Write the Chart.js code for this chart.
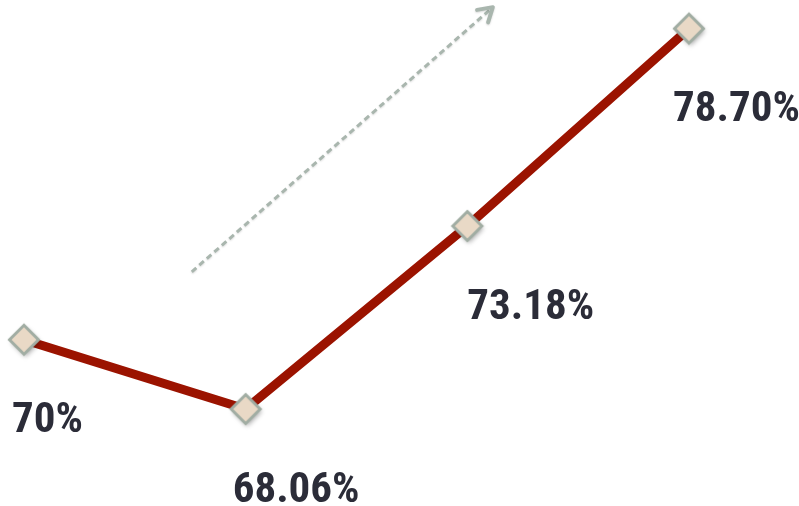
<!DOCTYPE html>
<html>
<head>
<meta charset="utf-8">
<script src="https://cdn.jsdelivr.net/npm/chart.js@4.4.1/dist/chart.umd.min.js"></script>
<style>
  html, body { margin: 0; padding: 0; background: #fff; }
  #wrap { width: 799px; height: 506px; position: relative; }
</style>
</head>
<body>
<div id="wrap"><canvas id="chart"></canvas></div>
<script>
const categories = ['P1', 'P2', 'P3', 'P4'];
const values = [70, 68.06, 73.18, 78.70];
const valueLabels = ['70%', '68.06%', '73.18%', '78.70%'];
// label offset from its point, px
const labelDx = [-12, -13, 0, -16];
const labelDy = 82;
// trend arrow, in data units (category index, value)
const arrowFrom = [0.757, 71.9];
const arrowTo = [2.115, 79.3];

// diamond marker with soft shadow
function makeMarker() {
  const c = document.createElement('canvas');
  c.width = 44; c.height = 44;
  const g = c.getContext('2d');
  g.save();
  g.shadowColor = 'rgba(0,0,0,0.35)';
  g.shadowBlur = 5;
  g.shadowOffsetX = 1.5;
  g.shadowOffsetY = 2.5;
  g.beginPath();
  g.moveTo(22, 7.5); g.lineTo(36.5, 22); g.lineTo(22, 36.5); g.lineTo(7.5, 22); g.closePath();
  g.fillStyle = '#e9d9c6';
  g.fill();
  g.restore();
  g.lineWidth = 3;
  g.strokeStyle = '#a1ada3';
  g.stroke();
  return c;
}

const decorations = {
  id: 'decorations',
  afterDatasetsDraw(chart) {
    const { ctx, scales: { x, y } } = chart;
    // dashed trend arrow
    const x0 = x.getPixelForValue(arrowFrom[0]), y0 = y.getPixelForValue(arrowFrom[1]);
    const x1 = x.getPixelForValue(arrowTo[0]), y1 = y.getPixelForValue(arrowTo[1]);
    const ang = Math.atan2(y1 - y0, x1 - x0);
    ctx.save();
    ctx.shadowColor = 'rgba(0,0,0,0.15)';
    ctx.shadowBlur = 2;
    ctx.shadowOffsetY = 1;
    ctx.strokeStyle = '#a9b6ae';
    ctx.lineWidth = 3;
    ctx.setLineDash([6, 4]);
    ctx.beginPath();
    ctx.moveTo(x0, y0);
    ctx.lineTo(x1 - 2 * Math.cos(ang), y1 - 2 * Math.sin(ang));
    ctx.stroke();
    ctx.setLineDash([]);
    ctx.lineWidth = 4;
    ctx.lineCap = 'round';
    ctx.lineJoin = 'round';
    ctx.beginPath();
    ctx.moveTo(x1 - 16 * Math.cos(ang - 0.55), y1 - 16 * Math.sin(ang - 0.55));
    ctx.lineTo(x1, y1);
    ctx.lineTo(x1 - 16 * Math.cos(ang + 0.55), y1 - 16 * Math.sin(ang + 0.55));
    ctx.stroke();
    ctx.restore();

    // value labels
    const meta = chart.getDatasetMeta(0);
    ctx.save();
    ctx.fillStyle = '#2b2c38';
    ctx.font = 'bold 43px "Liberation Sans Narrow", "Roboto Condensed", "Roboto", sans-serif';
    ctx.textAlign = 'left';
    ctx.textBaseline = 'middle';
    meta.data.forEach((pt, i) => {
      ctx.fillText(valueLabels[i], pt.x + labelDx[i], pt.y + labelDy);
    });
    ctx.restore();
  }
};

document.addEventListener('DOMContentLoaded', () => {
  const marker = makeMarker();
  new Chart(document.getElementById('chart'), {
    type: 'line',
    data: {
      labels: categories,
      datasets: [{
        data: values,
        borderColor: '#9b1300',
        borderWidth: 9,
        tension: 0,
        pointStyle: marker,
        pointRadius: 15,
        pointHoverRadius: 15,
        clip: false,
      }],
    },
    options: {
      responsive: true, maintainAspectRatio: false, animation: false,
      layout: { autoPadding: false, padding: { left: 24, right: 110, top: 0, bottom: 0 } },
      plugins: { legend: { display: false }, tooltip: { enabled: false } },
      scales: {
        x: { type: 'category', offset: false, display: false },
        y: { min: 65.35, max: 79.5, display: false },
      },
    },
    plugins: [decorations],
  });
});
</script>
</body>
</html>
